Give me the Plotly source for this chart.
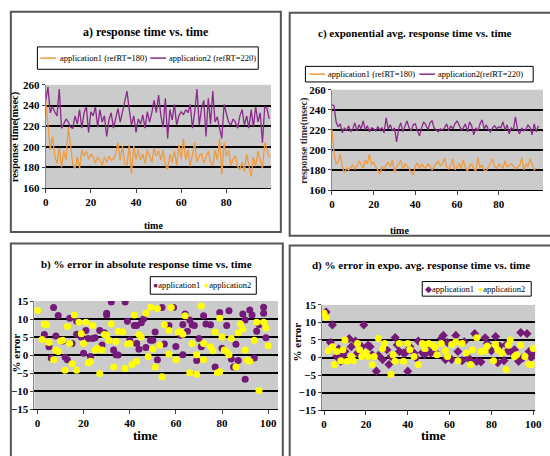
import plotly.graph_objects as go

W, H = 550, 456

# ---------------- data ----------------
time_a = list(range(100))
a_app1 = [245,222,197,210,191,184,199,180,196,187,219,202,182,179,190,179,197,191,196,188,
          193,190,184,190,187,182,190,185,191,187,188,193,204,187,201,184,182,202,174,201,
          188,197,187,193,184,197,190,185,199,191,196,187,197,182,178,193,185,196,182,202,
          188,208,187,197,181,193,204,185,191,194,184,190,196,185,182,197,187,208,173,204,
          191,197,182,188,191,181,178,185,176,193,182,171,190,181,196,187,179,204,197,190]
a_app2 = [245,258,233,239,234,230,256,218,222,227,224,219,218,230,222,236,218,233,239,214,
          234,230,239,219,236,224,230,210,226,233,218,229,237,224,233,245,254,236,221,230,
          214,227,222,231,218,234,224,233,245,233,250,230,219,247,208,236,226,241,221,230,
          234,231,236,233,241,218,234,256,221,237,245,210,247,222,254,224,229,218,208,241,
          233,224,221,227,224,218,230,236,221,230,218,236,219,239,224,233,204,239,237,227]

c_app1 = [220,197,186,188,196,183,177,182,180,183,185,181,184,189,186,182,190,186,196,185,
          188,183,180,176,183,181,185,188,183,190,177,183,186,190,181,186,184,181,179,175,
          184,187,181,186,183,182,186,184,180,183,185,189,184,186,192,183,181,185,191,180,
          183,187,181,190,182,179,184,186,181,179,192,182,185,180,179,183,187,191,184,181,
          186,184,182,189,183,185,186,184,181,183,184,192,180,186,183,191,185,180,182]
c_app2 = [245,244,228,223,226,217,222,219,224,218,221,227,219,225,221,229,220,224,218,222,
          221,219,223,220,222,217,232,221,225,219,222,208,221,227,218,224,229,222,219,225,
          226,219,214,222,228,225,220,227,229,222,220,218,221,220,222,226,219,224,221,226,
          229,224,220,222,226,218,228,224,215,222,219,226,230,221,225,220,218,222,224,221,
          223,222,228,220,225,216,222,220,233,220,216,222,219,220,225,222,215,226,218,224]

b_app1_t = [3,5,6,7,8,9,11,12,13,14,15,17,17,19,20,21,22,23,24,25,27,28,29,30,30,32,33,34,35,
            38,39,40,42,43,43,44,45,46,47,49,50,51,52,54,55,57,59,60,62,63,63,64,65,66,67,68,
            69,70,71,72,73,75,77,79,80,82,83,84,85,86,87,89,90,90,92,93,94,95,96,98,98,99]
b_app1_e = [5.7,2.3,-0.8,13.2,5.3,11,3.9,-0.6,-1.3,10.2,3.2,9.4,5.8,5,0.5,6.8,4.6,-0.4,4.6,4.8,
            6.8,2.8,6.2,11.6,11.1,14.7,1.4,0.1,0,14.7,9.4,4.1,8.2,3.2,8.2,1.6,9,10,2.1,4.1,
            4.1,6.4,-1.3,13.2,3.1,8.2,13.2,2.4,5.5,0.1,8.5,11.4,6.6,9.7,8.4,8.2,-1.5,4.6,2.3,
            10.9,8.6,8.4,-3.3,11.8,1.9,8.2,12.3,-1.1,-3.3,3,-1.5,11.4,-6.7,9.7,12.5,11.1,-0.8,
            6.6,8.4,13.3,11.6,4.8]
b_app2_t = [0,2,3,4,5,7,8,9,10,11,12,13,14,15,16,17,18,19,20,21,22,23,24,25,26,27,28,29,30,31,
            32,33,34,35,37,38,39,40,41,42,43,44,45,47,48,49,50,51,52,53,54,55,57,57,58,60,61,
            62,63,64,66,67,69,69,71,72,72,75,76,77,78,79,79,80,81,82,83,84,86,87,88,89,90,91,
            92,94,95,96,98,99,100]
b_app2_e = [12.4,4.3,8.6,8.4,3.5,-1.3,1.4,1,3.9,4.1,-4.2,7.9,3.2,-2.4,11.1,-4.2,9.1,5.9,3.2,
            9.1,-2.2,-1.7,8.2,1.4,1.9,-5.1,1.4,5.7,5.5,4.1,8.6,-3.3,3.7,6.6,6.4,-3.7,3.1,3.2,
            -2.6,11.1,-1.7,5.7,5,11.6,-0.4,13.3,1.7,-3.3,12.9,2.8,-6,8.4,6.8,0.3,13.2,-1.3,6.4,
            6.4,5.8,10.9,-4.9,3.2,-5.3,0.1,13.6,3.2,-1.3,2.3,1.2,6.4,-4.9,-4.6,10.2,5,1.4,1,
            0.1,4.6,-3.3,6.2,8.6,7.3,1.4,-1.5,-1.7,4.1,9.1,-9.8,9.1,7.5,2.6]

d_app1_t = [1,3,4,6,7,8,9,10,12,13,15,16,18,19,21,22,23,25,26,28,30,31,32,34,35,36,38,39,40,41,
            43,44,45,47,48,50,51,52,53,56,57,58,59,61,63,64,66,67,69,70,72,73,75,77,78,80,82,
            83,84,86,87,88,90,91,93,94,95,97,98,99,100]
d_app1_e = [13,4.3,9.3,0.3,2.5,-1.1,0.6,1.7,5.4,3.1,4.7,1.3,3.1,9.3,3.5,3.1,0.8,-3.9,0.6,-0.6,
            2.2,-2,0.3,5.7,3.6,1.7,1.3,1.4,-3.9,3.1,1.3,-0.1,4.7,1.4,0.8,3.8,1.3,2.2,1.7,5.4,
            6.3,-0.6,4.3,-0.6,6.3,1.7,-0.9,4.5,-0.1,-0.9,6.8,-1.1,-1.3,5.6,4,1.9,6,-1.5,3.3,
            -0.9,3.7,1.9,1.3,2.2,-1.1,7.1,-0.1,6.8,1.7,0,1.3]
d_app2_t = [0,1,2,4,5,6,8,9,10,11,13,14,16,17,18,20,21,23,24,26,28,29,32,33,34,36,38,40,41,43,
            45,47,48,50,52,53,54,56,58,59,61,63,64,66,68,70,71,73,75,77,78,81,82,83,85,87,88,
            89,91,92,94,96,98,99,100]
d_app2_e = [12.6,11.4,1.9,3.1,-2,1.7,-0.9,2.2,5,-1.1,0.3,-0.9,4,2.2,0.3,1.3,0.3,-2,0.3,5.4,
            2.6,4,-4.8,0.8,-1.1,4,-1.1,4,2.2,0.3,-2,4,2.6,4,3.5,2.8,0.8,4,1.9,0.3,3.7,4.5,
            -0.9,4,1.3,-2,2.2,5.6,1.7,1.9,3.3,-0.9,3.7,2.2,1.3,-3.4,3.5,5,0.3,0.8,3.5,0.3,
            -1.9,-2,2.6]

ticks5 = [0, 20, 40, 60, 80]
ticks6 = [0, 20, 40, 60, 80, 100]

# ---------------- styling helpers ----------------
def px(x):
    return x / W

def py(y):
    return 1 - y / H

ORANGE = "#F29A3E"
PURPLE = "#8B2A8B"
DPURPLE = "#741A78"
YELLOW = "#FFFF00"
BG = "#CBCBCB"
SERIF = "Liberation Serif"

fig = go.Figure()

# panel a
fig.add_trace(go.Scatter(x=time_a, y=a_app1, mode="lines", name="application1 (refRT=180)",
                         line=dict(color=ORANGE, width=1.3), xaxis="x", yaxis="y"))
fig.add_trace(go.Scatter(x=time_a, y=a_app2, mode="lines", name="application2 (refRT=220)",
                         line=dict(color=PURPLE, width=1.3), xaxis="x", yaxis="y"))
# panel c
fig.add_trace(go.Scatter(x=list(range(len(c_app1))), y=c_app1, mode="lines", name="application1 (refRT=180)",
                         line=dict(color=ORANGE, width=1.3), xaxis="x2", yaxis="y2"))
fig.add_trace(go.Scatter(x=list(range(len(c_app2))), y=c_app2, mode="lines", name="application2(refRT=220)",
                         line=dict(color=PURPLE, width=1.3), xaxis="x2", yaxis="y2"))
# panel b
fig.add_trace(go.Scatter(x=b_app1_t, y=b_app1_e, mode="markers", name="application1",
                         marker=dict(color=DPURPLE, size=7, symbol="circle"),
                         xaxis="x3", yaxis="y3"))
fig.add_trace(go.Scatter(x=b_app2_t, y=b_app2_e, mode="markers", name="application2",
                         marker=dict(color=YELLOW, size=7, symbol="circle"),
                         xaxis="x3", yaxis="y3"))
# panel d
fig.add_trace(go.Scatter(x=d_app1_t, y=d_app1_e, mode="markers", name="application1",
                         marker=dict(color=DPURPLE, size=7, symbol="diamond"),
                         xaxis="x4", yaxis="y4"))
fig.add_trace(go.Scatter(x=d_app2_t, y=d_app2_e, mode="markers", name="application2",
                         marker=dict(color=YELLOW, size=7, symbol="circle"),
                         xaxis="x4", yaxis="y4"))

tickfont = dict(family=SERIF, size=11, color="black", weight="bold")

def xax(dom, rng, tickvals, anchor):
    return dict(domain=[px(dom[0]), px(dom[1])], range=rng, tickvals=tickvals, anchor=anchor,
                showgrid=False, zeroline=False, showline=True, linecolor="black", linewidth=1,
                ticks="outside", ticklen=4, tickcolor="#444", tickfont=tickfont, fixedrange=True)

def yax(dom, rng, dtick, anchor):
    return dict(domain=[py(dom[1]), py(dom[0])], range=rng, dtick=dtick, anchor=anchor,
                showgrid=True, gridcolor="black", gridwidth=2, zeroline=False,
                showline=True, linecolor="#888", linewidth=1, ticks="outside", ticklen=3,
                tickcolor="#444", tickfont=tickfont, fixedrange=True)

fig.update_layout(
    width=W, height=H, autosize=False,
    margin=dict(l=0, r=0, t=0, b=0),
    paper_bgcolor="white", plot_bgcolor=BG,
    showlegend=False,
    xaxis=xax((43.5, 273), [0, 99.8], ticks5, "y"),
    yaxis=yax((81, 187), [160, 260], 20, "x"),
    xaxis2=xax((335, 550), [0, 101.2], ticks5, "y2"),
    yaxis2=yax((86, 189), [160, 260], 20, "x2"),
    xaxis3=xax((32, 280), [-1.3, 104.2], ticks6, "y3"),
    yaxis3=yax((303, 414), [-15, 15], 5, "x3"),
    xaxis4=xax((325, 542), [-0.94, 100.9], ticks6, "y4"),
    yaxis4=yax((307, 415), [-15, 15], 5, "x4"),
)

def rect(x0, y0, x1, y1, color="#555", width=2):
    fig.add_shape(type="rect", xref="paper", yref="paper",
                  x0=px(x0), x1=px(x1), y0=py(y1), y1=py(y0),
                  line=dict(color=color, width=width), fillcolor="rgba(0,0,0,0)", layer="above")

def seg(x0, x1, y, color):
    fig.add_shape(type="line", xref="paper", yref="paper",
                  x0=px(x0), x1=px(x1), y0=py(y), y1=py(y),
                  line=dict(color=color, width=1.5), layer="above")

def ann(text, x, y, size, angle=0, bold=True, color="black", xanchor="center"):
    fig.add_annotation(text=text, x=px(x), y=py(y), xref="paper", yref="paper",
                       showarrow=False, xanchor=xanchor, yanchor="middle", textangle=angle,
                       font=dict(family=SERIF, size=size, color=color,
                                 weight="bold" if bold else "normal"))

# panel borders
for b in [(8, 6, 283, 232), (292, 7, 560, 236), (8, 244, 285, 470), (292, 246, 560, 470)]:
    rect(*b)

# titles
ann("a) response time vs. time", 146, 27, 12)
ann("c) exponential avg. response time vs. time", 420, 28, 11)
ann("b) % error in absolute response time vs. time", 146, 265, 11)
ann("d) % error in expo. avg. response time vs. time", 426, 266, 11)

# axis titles
ann("response time(msec)", 13, 134, 10.5, angle=-90)
ann("response time(msec)", 307, 138, 10, angle=-90, color="#333")
ann("time", 153, 225, 10)
ann("time", 404, 231, 10)
ann("% error", 13, 356, 11, angle=-90)
ann("% error", 299, 345, 11, angle=-90)
ann("time", 145, 441, 13)
ann("time", 438, 441, 13)

# legends (boxes, samples, labels)
LF = 8.5
rect(35, 42, 260, 65, color="black", width=1)
seg(38, 54, 53.5, ORANGE)
ann("application1 (refRT=180)", 56, 53.5, LF, bold=False, xanchor="left")
seg(150, 166, 53.5, PURPLE)
ann("application2 (refRT=220)", 167, 53.5, LF, bold=False, xanchor="left")

rect(308, 62, 540, 78, color="black", width=1)
seg(312, 328, 70, ORANGE)
ann("application1 (refRT=180)", 329, 70, LF, bold=False, xanchor="left")
seg(424, 440, 70, PURPLE)
ann("application2(refRT=220)", 441, 70, LF, bold=False, xanchor="left")

rect(150, 278, 258, 296, color="black", width=1)
ann("<span style='color:%s'>●</span>application1" % DPURPLE, 151, 287, LF, bold=False, xanchor="left")
ann("<span style='color:%s'>●</span>application2" % YELLOW, 203, 287, LF, bold=False, xanchor="left")

rect(427, 283, 538, 298, color="black", width=1)
ann("<span style='color:%s'>◆</span>application1" % DPURPLE, 428, 290.5, LF, bold=False, xanchor="left")
ann("<span style='color:%s'>●</span>application2" % YELLOW, 482, 290.5, LF, bold=False, xanchor="left")

fig.write_html("out.html", config={"displayModeBar": False},
               post_script="document.body.style.margin='0px';")
